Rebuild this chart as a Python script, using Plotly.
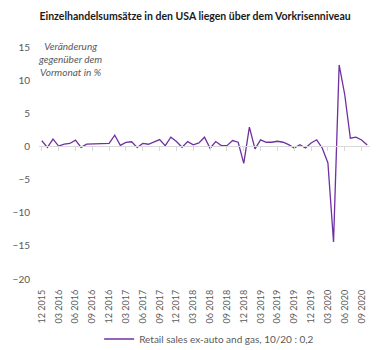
import plotly.graph_objects as go

# Monthly change (%), Dec 2015 .. Oct 2020
months = []
for y in range(2015, 2021):
    for m in range(1, 13):
        if (y == 2015 and m < 12) or (y == 2020 and m > 10):
            continue
        months.append(f"{m:02d} {y}")

values = [0.85, -0.15, 1.1, 0.05, 0.35, 0.45, 0.95, -0.15, 0.35, 0.35,
          0.35, 0.45, 0.45, 1.7, 0.15, 0.6, 0.7, -0.15, 0.45, 0.33,
          0.73, 1.03, 0.12, 1.39, 0.73, -0.12, 0.73, 0.23, 0.53, 1.39,
          -0.27, 0.73, 0.12, 0.12, 0.88, 0.63, -2.55, 2.9, -0.38, 0.98,
          0.63, 0.63, 0.78, 0.63, 0.27, -0.23, 0.27, -0.23, 0.53, 1.0,
          -0.27, -2.5, -14.4, 12.3, 7.8, 1.24, 1.39, 0.98, 0.2]

series_name = "Retail sales ex-auto and gas, 10/20 : 0,2"
title_text = "<b>Einzelhandelsumsätze in den USA liegen über dem Vorkrisenniveau</b>"
y_note = "<i>Veränderung<br>gegenüber dem<br>Vormonat in %</i>"
y_ticks = [-20, -15, -10, -5, 0, 5, 10, 15]

x_idx = list(range(len(months)))
tick_idx = x_idx[::3]
tick_txt = months[::3]

FONT = "Lato"
GRAY = "#595959"

fig = go.Figure()
fig.add_trace(go.Scatter(x=x_idx, y=values, mode="lines", name=series_name,
                         line=dict(color="#7030A0", width=1.3)))
# invisible trace to host the zero-line axis with tick marks
fig.add_trace(go.Scatter(x=[x_idx[0]], y=[0], xaxis="x2", mode="markers",
                         marker=dict(opacity=0), showlegend=False, hoverinfo="skip"))

fig.update_layout(
    width=384, height=350,
    margin=dict(l=39, r=14, t=47, b=71, autoexpand=False),
    paper_bgcolor="white", plot_bgcolor="white",
    font=dict(family=FONT, color=GRAY, size=10),
    title=dict(text=title_text, x=0.508, xanchor="center", y=1 - 16 / 350,
               yanchor="middle", font=dict(family=FONT, size=10.5, color="#1a1a1a")),
    xaxis=dict(range=[-0.5, len(months) - 0.5], tickmode="array",
               tickvals=tick_idx, ticktext=tick_txt, tickangle=-90,
               showgrid=False, zeroline=False, showline=False, ticks="",
               tickfont=dict(size=9, color=GRAY), ticklabelstandoff=8,
               automargin=False),
    xaxis2=dict(overlaying="x", anchor="free", position=20 / 35, side="bottom",
                range=[-0.5, len(months) - 0.5], tickmode="array",
                tickvals=tick_idx, showticklabels=False, showgrid=False,
                zeroline=False, showline=True, linecolor="#d9d9d9", linewidth=1,
                ticks="outside", ticklen=4, tickcolor="#d9d9d9", automargin=False),
    yaxis=dict(range=[-20, 15], tickmode="array", tickvals=y_ticks,
               showgrid=False, zeroline=False, showline=False, ticks="",
               tickfont=dict(size=10, color=GRAY), ticklabelstandoff=8,
               automargin=False),
    showlegend=True,
    legend=dict(orientation="h", x=0.514, xanchor="center", y=-60 / 232,
                yanchor="middle", font=dict(size=10, color=GRAY),
                bgcolor="rgba(0,0,0,0)"),
    annotations=[dict(text=y_note, xref="paper", yref="paper", x=0.094, y=1.04,
                      xanchor="center", yanchor="top", showarrow=False,
                      font=dict(size=10, color=GRAY, family=FONT))],
)

fig.write_html("out.html")
